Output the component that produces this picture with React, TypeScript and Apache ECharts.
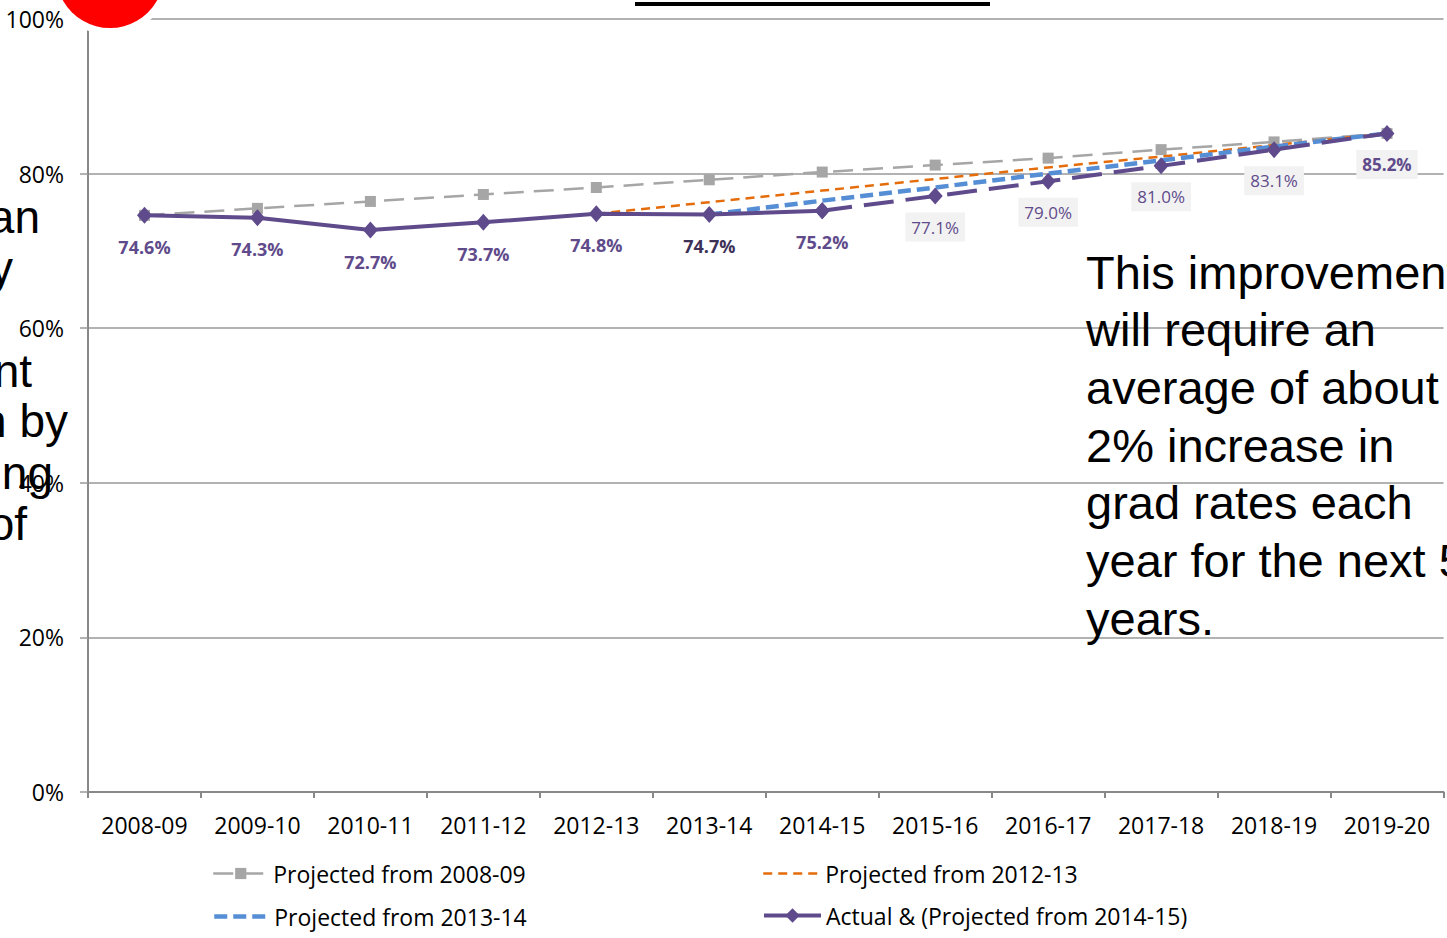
import React, { useEffect, useRef } from "react";
import * as echarts from "echarts";

const categories = ["2008-09", "2009-10", "2010-11", "2011-12", "2012-13", "2013-14", "2014-15", "2015-16", "2016-17", "2017-18", "2018-19", "2019-20"];
const proj0809 = [74.6, 75.5, 76.4, 77.3, 78.2, 79.2, 80.2, 81.1, 82.0, 83.1, 84.1, 85.2];
const proj1213 = [null, null, null, null, 74.8, 76.3, 77.8, 79.3, 80.8, 82.2, 83.7, 85.2];
const proj1314 = [null, null, null, null, null, 74.7, 76.5, 78.2, 80.0, 81.7, 83.5, 85.2];
const actual = [74.6, 74.3, 72.7, 73.7, 74.8, 74.7, 75.2, null, null, null, null, null];
const proj1415 = [null, null, null, null, null, null, 75.2, 77.1, 79.0, 81.0, 83.1, 85.2];
const yTicks = [0, 20, 40, 60, 80, 100];

const names = ["Projected from 2008-09", "Projected from 2012-13", "Projected from 2013-14", "Actual & (Projected from 2014-15)"];
const rightLines = ["This improvement", "will require an", "average of about", "2% increase in", "grad rates each", "year for the next 5", "years."];
const leftLines = [
  { t: "an", x: 40, b: 233 },
  { t: "y", x: 13, b: 284 },
  { t: "nt", x: 32, b: 387 },
  { t: "n by", x: 68, b: 437 },
  { t: "ing", x: 53, b: 489 },
  { t: "of", x: 27, b: 540 },
];

const PURPLE = "#5f4b8b";
const FONT = "'Open Sans', sans-serif";
const ARIAL = "'Liberation Sans', Arial, sans-serif";

export default function App() {
  const ref = useRef<HTMLDivElement>(null);
  useEffect(() => {
    const chart = echarts.init(ref.current!, null, { renderer: "svg" });
    const fmt = (p: any) => Number(p.value).toFixed(1) + "%";
    const legendBase = {
      orient: "horizontal",
      padding: 0,
      itemHeight: 14,
      textStyle: { fontSize: 23, color: "#000", fontFamily: FONT },
      selectedMode: false,
    };
    const graphic: any[] = [
      { type: "circle", shape: { cx: 110, cy: -26, r: 61 }, style: { fill: "#fff" }, z: 100 },
      { type: "circle", shape: { cx: 110, cy: -26, r: 54 }, style: { fill: "#ff0000" }, z: 101 },
      { type: "rect", shape: { x: 635, y: 2, width: 355, height: 4 }, style: { fill: "#000" }, z: 100 },
    ];
    rightLines.forEach((t, i) => {
      graphic.push({
        type: "text", x: 1086, y: 288 + i * 57.7 - 16, z: 100,
        style: { text: t, fontSize: 47, fontFamily: ARIAL, fill: "#000", textVerticalAlign: "middle", textAlign: "left" },
      });
    });
    leftLines.forEach((l) => {
      graphic.push({
        type: "text", x: l.x, y: l.b - 16, z: 100,
        style: { text: l.t, fontSize: 46, fontFamily: ARIAL, fill: "#000", textVerticalAlign: "middle", textAlign: "right" },
      });
    });

    chart.setOption({
      animation: false,
      textStyle: { fontFamily: FONT },
      grid: { left: 88, right: 3.5, top: 19, bottom: 146, containLabel: false },
      xAxis: {
        type: "category",
        data: categories,
        boundaryGap: true,
        axisLine: { lineStyle: { color: "#888", width: 2 } },
        axisTick: { show: true, length: 6, interval: 0, lineStyle: { color: "#888", width: 2 } },
        axisLabel: { color: "#000", fontSize: 23, margin: 21, interval: 0, fontFamily: FONT },
        splitLine: { show: false },
      },
      yAxis: {
        type: "value",
        min: yTicks[0],
        max: yTicks[yTicks.length - 1],
        interval: 20,
        axisLine: { show: true, lineStyle: { color: "#888", width: 2 } },
        axisTick: { show: true, length: 8, lineStyle: { color: "#999", width: 1.5 } },
        axisLabel: { color: "#000", fontSize: 23, margin: 24, formatter: "{value}%", fontFamily: FONT },
        splitLine: { show: true, lineStyle: { color: "#999", width: 1.5 } },
      },
      legend: [
        { ...legendBase, data: [{ name: names[0], lineStyle: { width: 2.5 } }], left: 212, top: 862, itemWidth: 55 },
        { ...legendBase, data: [{ name: names[1], itemStyle: { opacity: 0 }, lineStyle: { width: 2.5 } }], left: 762, top: 862, itemWidth: 57 },
        { ...legendBase, data: [{ name: names[2], itemStyle: { opacity: 0 }, lineStyle: { width: 4.5 } }], left: 212, top: 905, itemWidth: 55 },
        { ...legendBase, data: [{ name: names[3], lineStyle: { width: 4 } }], left: 762, top: 904, itemWidth: 57, itemHeight: 18 },
      ],
      series: [
        {
          name: names[0], type: "line", data: proj0809,
          symbol: "rect", symbolSize: 11,
          itemStyle: { color: "#a6a6a6" },
          lineStyle: { color: "#a6a6a6", width: 2.5, type: [20, 10] },
          z: 2,
        },
        {
          name: names[1], type: "line", data: proj1213,
          symbol: "none",
          itemStyle: { color: "#e46c0a" },
          lineStyle: { color: "#e46c0a", width: 2.5, type: [9, 6] },
          z: 3,
        },
        {
          name: names[2], type: "line", data: proj1314,
          symbol: "none",
          itemStyle: { color: "#558ed5" },
          lineStyle: { color: "#558ed5", width: 4.5, type: [13, 6] },
          z: 4,
        },
        {
          name: names[3], type: "line",
          data: actual.map((v, i) => (i === 5 ? { value: v, label: { color: "#3e3158" } } : v)),
          symbol: "diamond", symbolSize: [15, 17],
          itemStyle: { color: PURPLE },
          lineStyle: { color: PURPLE, width: 4 },
          label: { show: true, position: "bottom", distance: 14, fontSize: 18, fontWeight: "bold", color: PURPLE, formatter: fmt, fontFamily: FONT },
          z: 6,
        },
        {
          name: names[3], type: "line",
          data: proj1415.map((v, i) =>
            i === 6 ? { value: v, label: { show: false } } : i === 11 ? { value: v, label: { fontWeight: "bold" } } : v
          ),
          symbol: "diamond", symbolSize: [15, 17],
          itemStyle: { color: PURPLE },
          lineStyle: { color: PURPLE, width: 4, type: [30, 12] },
          label: {
            show: true, position: "bottom", distance: 8, fontSize: 17, color: PURPLE,
            backgroundColor: "#f2f2f2", padding: [6, 6], formatter: fmt, fontFamily: FONT,
          },
          z: 5,
        },
      ],
      graphic,
    });
    return () => chart.dispose();
  }, []);
  return <div ref={ref} style={{ position: "fixed", left: 0, top: 0, width: 1447, height: 938, background: "#fff" }} />;
}
